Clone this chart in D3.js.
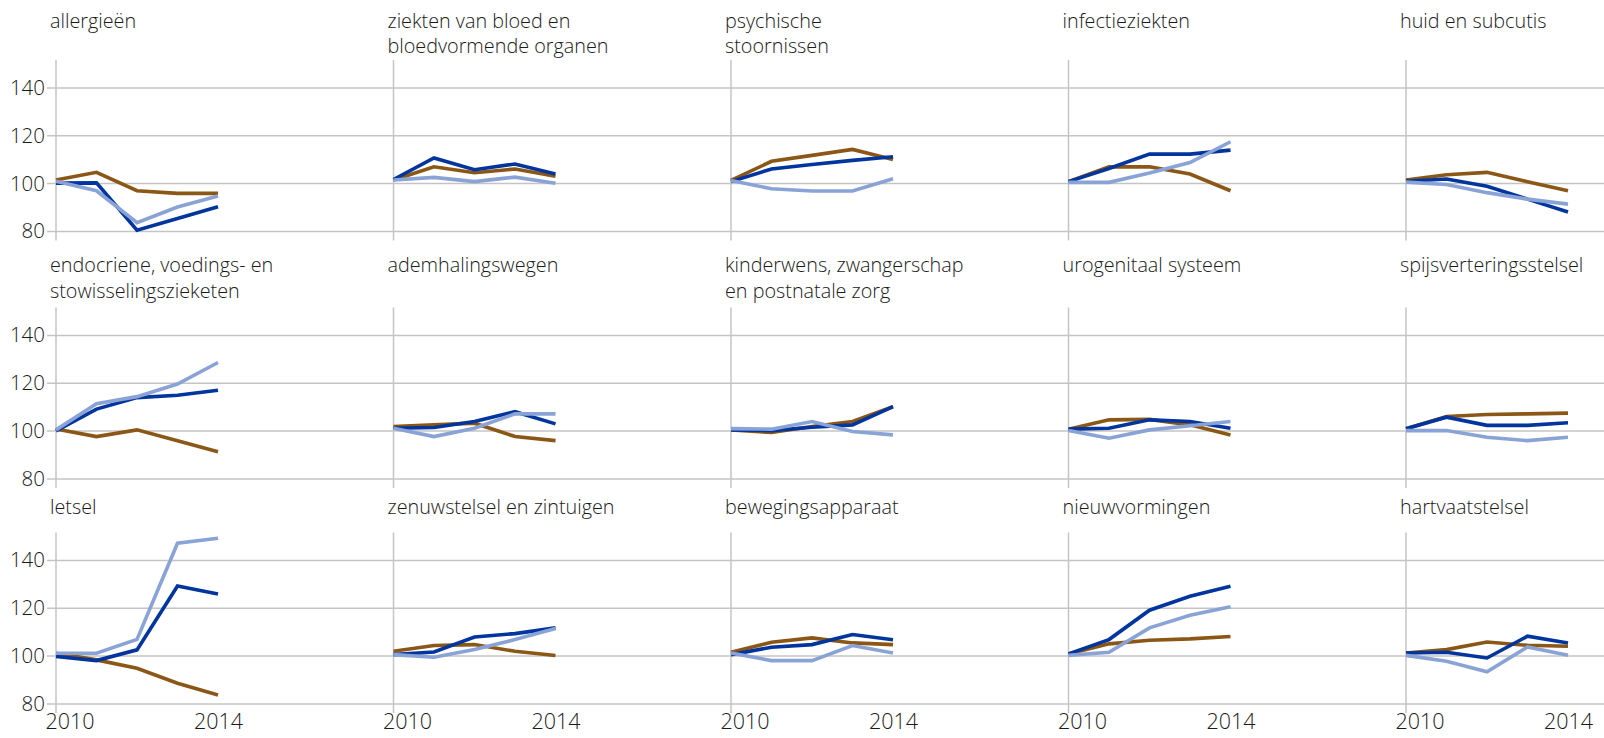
<!DOCTYPE html>
<html>
<head>
<meta charset="utf-8">
<script src="https://cdn.jsdelivr.net/npm/d3@7/dist/d3.min.js"></script>
<style>
  html, body { margin: 0; padding: 0; background: #fff; }
  svg { display: block; }
  text { font-family: "Open Sans", "Noto Sans", sans-serif; fill: #1a1a1a; font-weight: 350; }
</style>
</head>
<body>
<svg id="chart" width="1604" height="738"></svg>
<script>
// ---- DATA ----
const years = [2010, 2011, 2012, 2013, 2014];
const xTickLabels = [2010, 2014];
const yTickValues = [80, 100, 120, 140];

const categories = [
  ["allergieën"],
  ["ziekten van bloed en", "bloedvormende organen"],
  ["psychische", "stoornissen"],
  ["infectieziekten"],
  ["huid en subcutis"],
  ["endocriene, voedings- en", "stowisselingszieketen"],
  ["ademhalingswegen"],
  ["kinderwens, zwangerschap", "en postnatale zorg"],
  ["urogenitaal systeem"],
  ["spijsverteringsstelsel"],
  ["letsel"],
  ["zenuwstelsel en zintuigen"],
  ["bewegingsapparaat"],
  ["nieuwvormingen"],
  ["hartvaatstelsel"]
];

const seriesBrown = [
  [101.3, 104.5, 96.8, 95.7, 95.7],
  [101.3, 106.8, 104.3, 105.9, 102.9],
  [101.1, 109.1, 111.6, 114.1, 109.9],
  [100.6, 106.8, 106.8, 103.8, 96.8],
  [101.3, 103.5, 104.5, 100.6, 96.8],
  [100.7, 97.5, 100.3, 95.7, 91.1],
  [101.7, 102.4, 103.1, 97.5, 95.8],
  [100.3, 99.2, 101.7, 103.8, 110.0],
  [100.6, 104.5, 104.7, 102.4, 98.2],
  [100.8, 105.9, 106.7, 107.0, 107.3],
  [101.0, 98.2, 94.7, 88.4, 83.5],
  [101.8, 104.2, 104.6, 101.8, 100.0],
  [101.4, 105.6, 107.4, 105.3, 104.6],
  [100.7, 104.9, 106.4, 107.0, 108.0],
  [101.1, 102.5, 105.7, 104.3, 103.9]
];

const seriesDark = [
  [100.0, 100.1, 80.3, 85.2, 90.1],
  [101.5, 110.5, 105.6, 108.0, 103.8],
  [100.6, 105.9, 107.8, 109.5, 111.0],
  [100.6, 106.1, 112.1, 112.1, 113.8],
  [100.8, 101.7, 98.7, 93.3, 87.9],
  [99.9, 109.0, 113.8, 114.8, 116.9],
  [101.0, 101.3, 103.8, 107.9, 102.8],
  [100.3, 100.0, 101.4, 102.4, 110.0],
  [100.6, 101.0, 104.5, 103.8, 101.0],
  [100.8, 105.6, 102.2, 102.2, 103.3],
  [99.6, 97.9, 102.4, 129.1, 125.8],
  [100.4, 101.5, 107.8, 109.2, 111.6],
  [100.4, 103.5, 104.6, 108.8, 106.6],
  [100.7, 106.7, 119.0, 124.8, 129.0],
  [101.1, 101.4, 99.0, 108.1, 105.3]
];

const seriesLight = [
  [100.8, 96.8, 83.4, 90.0, 94.6],
  [101.3, 102.4, 100.6, 102.5, 99.9],
  [101.1, 97.6, 96.7, 96.7, 101.8],
  [100.3, 100.3, 104.2, 108.6, 117.3],
  [100.4, 99.4, 96.0, 93.3, 91.2],
  [100.3, 111.2, 114.2, 119.5, 128.5],
  [101.0, 97.5, 101.0, 107.0, 107.0],
  [100.8, 100.6, 103.8, 99.6, 98.2],
  [100.0, 96.8, 100.3, 102.0, 103.8],
  [100.0, 100.0, 97.2, 95.8, 97.2],
  [101.0, 101.0, 106.8, 147.0, 149.1],
  [100.4, 99.3, 102.5, 106.7, 111.3],
  [101.1, 97.9, 97.9, 104.2, 101.1],
  [100.1, 101.4, 111.6, 116.9, 120.4],
  [100.1, 97.6, 93.2, 103.6, 100.1]
];

// ---- LAYOUT ----
const W = 1604;
const nCols = 5;
const colX0 = 56, colStep = 337.5, panelW = 162;
const rowTop = [60, 307.5, 532.5];
const rowTitleBase = [27.5, 272, 514];
const titleLineH = 25.5;
const yDomain = [76, 151.5];
const plotH = (yDomain[1] - yDomain[0]) * 2.39;
const gridX0 = 47;

const colors = { brown: "#8b5716", dark: "#00359e", light: "#8aa3d6" };
const gridColor = "#c4c4c4";

const svg = d3.select("#chart");

const rows = d3.range(3);
rows.forEach(r => {
  const y = d3.scaleLinear().domain(yDomain).range([rowTop[r] + plotH, rowTop[r]]);

  // gridlines + y tick labels
  const gAxis = svg.append("g")
    .attr("transform", `translate(${gridX0},0)`)
    .call(d3.axisLeft(y).tickValues(yTickValues).tickSize(-(W - gridX0)).tickPadding(2));
  gAxis.select(".domain").remove();
  gAxis.selectAll(".tick line").attr("stroke", gridColor).attr("stroke-width", 1.5);
  gAxis.selectAll(".tick text")
    .style("font-size", "20.5px")
    .attr("fill", "#1a1a1a")
    .attr("dy", "0.34em");

  for (let c = 0; c < nCols; c++) {
    const i = r * nCols + c;
    const x0 = colX0 + c * colStep;
    const x = d3.scaleLinear().domain([years[0], years[years.length - 1]]).range([x0, x0 + panelW]);

    // vertical axis line
    svg.append("line")
      .attr("x1", x(years[0])).attr("x2", x(years[0]))
      .attr("y1", y(yDomain[1])).attr("y2", y(yDomain[0]))
      .attr("stroke", gridColor).attr("stroke-width", 1.5);

    // title
    const t = svg.append("text")
      .attr("x", x0 - 6)
      .attr("y", rowTitleBase[r])
      .style("font-size", "19.8px");
    categories[i].forEach((line, k) => {
      t.append("tspan").attr("x", x0 - 6).attr("dy", k === 0 ? 0 : titleLineH).text(line);
    });

    // lines
    const lineGen = d3.line().x((d, j) => x(years[j])).y(d => y(d));
    [["brown", seriesBrown], ["dark", seriesDark], ["light", seriesLight]].forEach(([k, s]) => {
      svg.append("path")
        .datum(s[i])
        .attr("d", lineGen)
        .attr("fill", "none")
        .attr("stroke", colors[k])
        .attr("stroke-width", 3.6)
        .attr("stroke-linejoin", "miter");
    });

    // x axis on bottom row
    if (r === 2) {
      const gx = svg.append("g")
        .attr("transform", `translate(0,${y(yDomain[0])})`)
        .call(d3.axisBottom(x).tickValues(xTickLabels).tickFormat(d3.format("d")).tickSize(0).tickPadding(1));
      gx.select(".domain").remove();
      gx.selectAll(".tick text").style("font-size", "21.5px").attr("fill", "#1a1a1a");
      gx.selectAll(".tick text").filter(d => d === xTickLabels[0])
        .attr("text-anchor", "start").attr("x", -11);
    }
  }
});
</script>
</body>
</html>
